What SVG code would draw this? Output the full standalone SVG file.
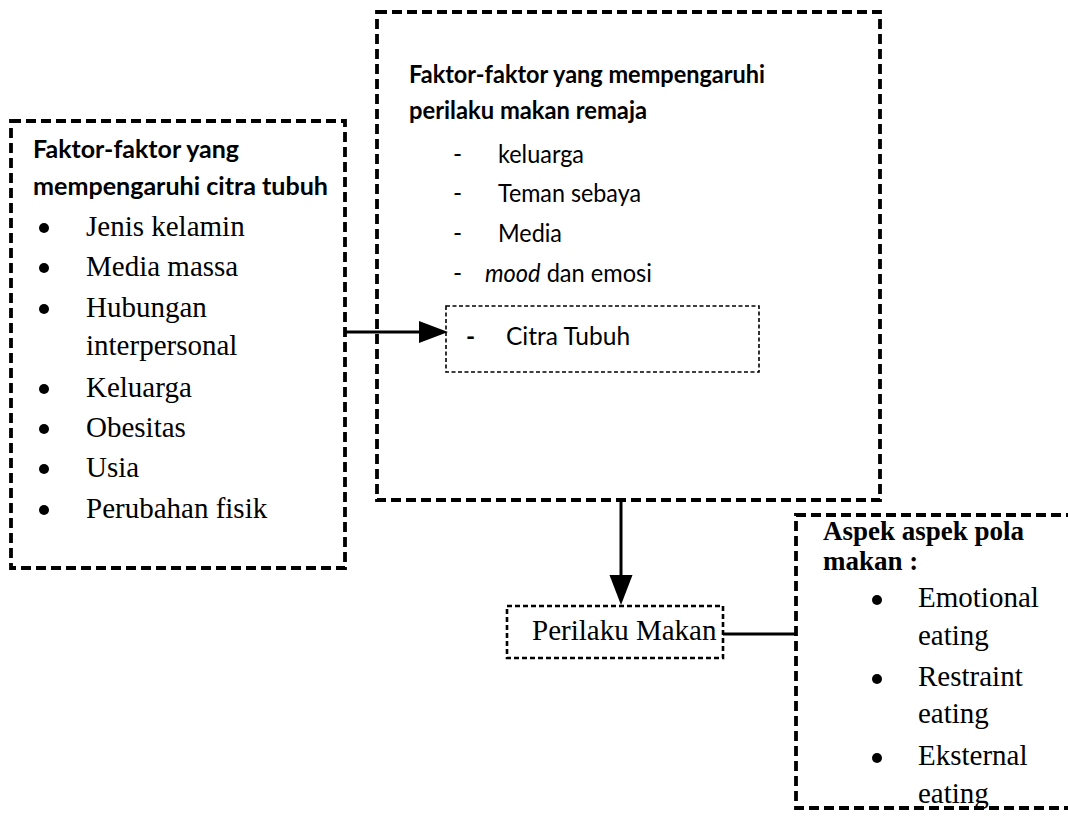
<svg xmlns="http://www.w3.org/2000/svg" width="1068" height="819" viewBox="0 0 1068 819">
<style>
.big{fill:none;stroke:#000;stroke-width:3.8;stroke-dasharray:10 5}
.small{fill:none;stroke:#000;stroke-width:1.6;stroke-dasharray:4 2.5}
.mid{fill:none;stroke:#000;stroke-width:2.6;stroke-dasharray:5 3}
.cal{font-family:Lato,"Open Sans",sans-serif;font-size:24.5px;fill:#000}
.calb{font-family:Lato,"Open Sans",sans-serif;font-size:24.5px;font-weight:bold;fill:#000}
.tnr{font-family:"Liberation Serif","Times New Roman",serif;font-size:29px;fill:#000}
.tnrb{font-family:"Liberation Serif","Times New Roman",serif;font-size:27px;font-weight:bold;fill:#000}
.conn{stroke:#000;stroke-width:3;fill:none}
</style>
<rect width="1068" height="819" fill="#fff"/>
<g id="citra-factors">
<rect class="big" x="11" y="121" width="334" height="447"/>
<text class="calb" x="33" y="158" textLength="206" lengthAdjust="spacingAndGlyphs">Faktor-faktor yang</text>
<text class="calb" x="33" y="195" textLength="295" lengthAdjust="spacingAndGlyphs">mempengaruhi citra tubuh</text>
<circle cx="44" cy="228" r="5"/><text class="tnr" x="86" y="236">Jenis kelamin</text>
<circle cx="44" cy="268" r="5"/><text class="tnr" x="86" y="276">Media massa</text>
<circle cx="44" cy="309" r="5"/><text class="tnr" x="86" y="317">Hubungan</text>
<text class="tnr" x="86" y="355">interpersonal</text>
<circle cx="44" cy="389" r="5"/><text class="tnr" x="86" y="397">Keluarga</text>
<circle cx="44" cy="429" r="5"/><text class="tnr" x="86" y="437">Obesitas</text>
<circle cx="44" cy="469" r="5"/><text class="tnr" x="86" y="477">Usia</text>
<circle cx="44" cy="510" r="5"/><text class="tnr" x="86" y="518">Perubahan fisik</text>
</g>
<g id="perilaku-factors">
<rect class="big" x="377" y="12" width="503" height="488"/>
<text class="calb" x="409" y="83" textLength="356" lengthAdjust="spacingAndGlyphs">Faktor-faktor yang mempengaruhi</text>
<text class="calb" x="409" y="119" textLength="238" lengthAdjust="spacingAndGlyphs">perilaku makan remaja</text>
<text class="cal" x="453" y="163">-</text><text class="cal" x="498" y="163" textLength="86" lengthAdjust="spacingAndGlyphs">keluarga</text>
<text class="cal" x="453" y="202">-</text><text class="cal" x="498" y="202" textLength="143" lengthAdjust="spacingAndGlyphs">Teman sebaya</text>
<text class="cal" x="453" y="242">-</text><text class="cal" x="498" y="242" textLength="64" lengthAdjust="spacingAndGlyphs">Media</text>
<text class="cal" x="453" y="282">-</text><text class="cal" x="485" y="282" textLength="167" lengthAdjust="spacingAndGlyphs"><tspan font-style="italic">mood</tspan> dan emosi</text>
</g>
<g id="citra-tubuh">
<rect class="small" x="446" y="306" width="313" height="66"/>
<text class="cal" x="466" y="345" font-weight="bold">-</text>
<text class="cal" x="506" y="345">Citra Tubuh</text>
</g>
<g id="perilaku-makan">
<rect class="mid" x="507" y="606" width="216" height="52"/>
<text class="tnr" x="532" y="640" font-size="27">Perilaku Makan</text>
</g>
<g id="aspek">
<rect class="big" x="796" y="515" width="285" height="293"/>
<text class="tnrb" x="823" y="540">Aspek aspek pola</text>
<text class="tnrb" x="823" y="570">makan :</text>
<circle cx="877" cy="600" r="5"/><text class="tnr" x="918" y="607">Emotional</text>
<text class="tnr" x="918" y="645">eating</text>
<circle cx="877" cy="679" r="5"/><text class="tnr" x="918" y="686">Restraint</text>
<text class="tnr" x="918" y="723">eating</text>
<circle cx="877" cy="758" r="5"/><text class="tnr" x="918" y="765">Eksternal</text>
<text class="tnr" x="918" y="803">eating</text>
</g>
<g id="connectors">
<line class="conn" x1="345" y1="332" x2="421" y2="332"/>
<polygon points="419,321 448,332 419,343" fill="#000"/>
<line class="conn" x1="621" y1="500" x2="621" y2="577"/>
<polygon points="609.5,575 632.5,575 621,605" fill="#000"/>
<line class="conn" x1="723" y1="634" x2="797" y2="634" stroke-width="2.5"/>
</g>
</svg>
